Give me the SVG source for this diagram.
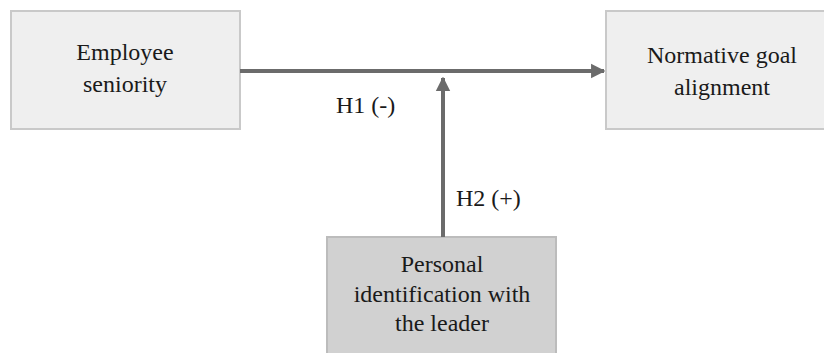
<svg xmlns="http://www.w3.org/2000/svg" width="824" height="353" viewBox="0 0 824 353">
  <style>
    .box-light { fill: #efefef; stroke: #c9c9c9; stroke-width: 2; }
    .box-dark { fill: #d1d1d1; stroke: #bcbcbc; stroke-width: 2; }
    .label { font-family: "Times New Roman", Times, "Liberation Serif", serif; font-size: 24px; fill: #1a1a1a; text-anchor: middle; }
    .hyp { font-family: "Times New Roman", Times, "Liberation Serif", serif; font-size: 24px; fill: #1a1a1a; }
    .link { stroke: #6b6b6b; stroke-width: 4; fill: none; }
  </style>
  <defs>
    <marker id="arrow" viewBox="0 0 10 10" refX="9" refY="5" markerWidth="3.6" markerHeight="3.8" orient="auto" markerUnits="strokeWidth">
      <path d="M0,0 L10,5 L0,10 Z" fill="#6b6b6b"/>
    </marker>
  </defs>
  <rect width="824" height="353" fill="#ffffff"/>

  <g id="employee-seniority">
    <rect class="box-light" x="11" y="11" width="229" height="118"/>
    <text class="label" x="125" y="60">Employee</text>
    <text class="label" x="125" y="92">seniority</text>
  </g>

  <g id="normative-goal-alignment">
    <rect class="box-light" x="606" y="11" width="230" height="118"/>
    <text class="label" x="722" y="63">Normative goal</text>
    <text class="label" x="722" y="95">alignment</text>
  </g>

  <g id="personal-identification">
    <rect class="box-dark" x="327" y="237" width="229" height="130"/>
    <text class="label" x="442" y="272">Personal</text>
    <text class="label" x="442" y="302">identification with</text>
    <text class="label" x="442" y="331">the leader</text>
  </g>

  <g id="connectors">
    <line class="link" x1="240" y1="71" x2="604" y2="71" marker-end="url(#arrow)"/>
    <text class="hyp" x="336" y="113">H1 (-)</text>
    <line class="link" x1="443" y1="237" x2="443" y2="78" marker-end="url(#arrow)"/>
    <text class="hyp" x="456" y="206">H2 (+)</text>
  </g>
</svg>
